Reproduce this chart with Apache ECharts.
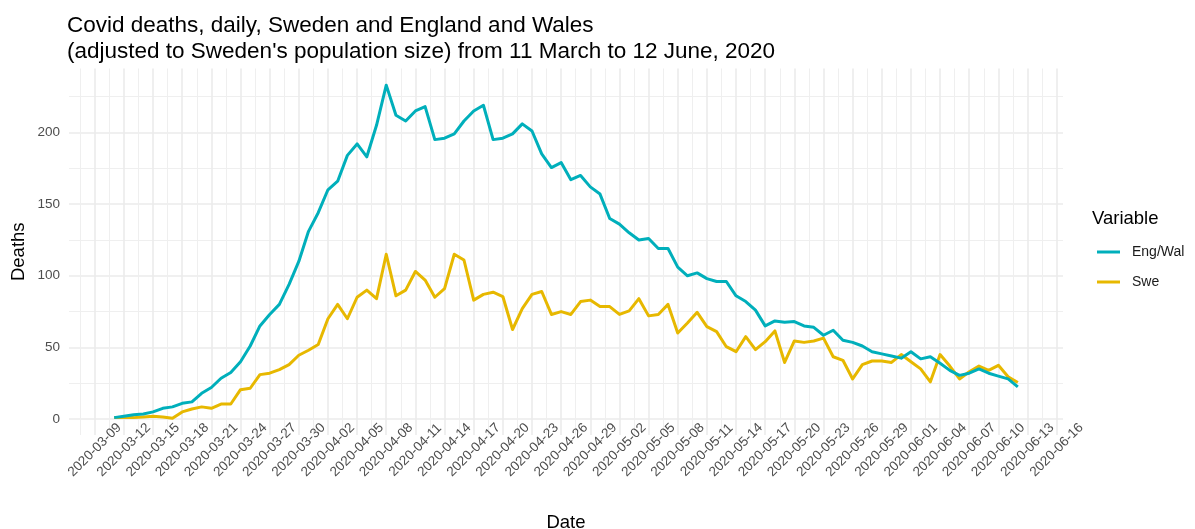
<!DOCTYPE html>
<html>
<head>
<meta charset="utf-8">
<script src="https://cdn.jsdelivr.net/npm/echarts@6/dist/echarts.min.js"></script>
<style>
  html, body { margin: 0; padding: 0; background: #ffffff; }
  #chart { width: 1195px; height: 529px; }
</style>
</head>
<body>
<div id="chart"></div>
<script>
// ---- Data ----
var dates = [
  '2020-03-11','2020-03-12','2020-03-13','2020-03-14','2020-03-15','2020-03-16','2020-03-17','2020-03-18','2020-03-19','2020-03-20',
  '2020-03-21','2020-03-22','2020-03-23','2020-03-24','2020-03-25','2020-03-26','2020-03-27','2020-03-28','2020-03-29','2020-03-30',
  '2020-03-31','2020-04-01','2020-04-02','2020-04-03','2020-04-04','2020-04-05','2020-04-06','2020-04-07','2020-04-08','2020-04-09',
  '2020-04-10','2020-04-11','2020-04-12','2020-04-13','2020-04-14','2020-04-15','2020-04-16','2020-04-17','2020-04-18','2020-04-19',
  '2020-04-20','2020-04-21','2020-04-22','2020-04-23','2020-04-24','2020-04-25','2020-04-26','2020-04-27','2020-04-28','2020-04-29',
  '2020-04-30','2020-05-01','2020-05-02','2020-05-03','2020-05-04','2020-05-05','2020-05-06','2020-05-07','2020-05-08','2020-05-09',
  '2020-05-10','2020-05-11','2020-05-12','2020-05-13','2020-05-14','2020-05-15','2020-05-16','2020-05-17','2020-05-18','2020-05-19',
  '2020-05-20','2020-05-21','2020-05-22','2020-05-23','2020-05-24','2020-05-25','2020-05-26','2020-05-27','2020-05-28','2020-05-29',
  '2020-05-30','2020-05-31','2020-06-01','2020-06-02','2020-06-03','2020-06-04','2020-06-05','2020-06-06','2020-06-07','2020-06-08',
  '2020-06-09','2020-06-10','2020-06-11','2020-06-12'
];

var engWal = [
  1, 2, 3, 3.5, 5, 7.5, 8.5, 11, 12, 18,
  22, 28.5, 32.5, 40, 51, 65, 73, 80, 94, 110,
  131, 144, 160, 166, 184, 192, 183, 205, 233, 212,
  208, 215, 218, 195, 196, 199, 208, 215, 219, 195,
  196, 199, 206, 201, 185, 175.5, 179, 167, 170, 162,
  157, 140, 136, 130, 125, 126, 119, 119, 106, 100,
  102, 98, 96, 96, 86, 82, 76, 65, 68.5, 67.5,
  68, 65, 64, 58.5, 62, 55, 53.5, 51, 47, 45.5,
  44, 42.5, 47, 42, 43.5, 39, 34, 30.5, 32, 35,
  32, 30, 28, 22.5
];

var swe = [
  1, 1, 1, 1.5, 2, 1.5, 0.5, 5, 7, 8.5,
  7.5, 10.5, 10.5, 20.5, 21.5, 31, 32, 34.5, 38, 44.5,
  48, 52, 70, 80, 70, 85, 90, 84, 115, 86,
  90, 103, 97, 85, 91, 115, 111, 83, 87, 88.5,
  85.5, 62.5, 77, 87, 89, 73, 75, 73, 82, 83,
  78.5, 78.5, 73, 75.5, 84, 72, 73, 80, 60, 67,
  74.5, 64.5, 61, 50.5, 47, 57.5, 48.5, 54, 61.5, 39.5,
  54.5, 53.5, 54.5, 56.5, 43.5, 41, 28, 38, 40.5, 40.5,
  39.5, 45, 40, 35, 26, 45, 37, 28, 33, 37,
  34, 37.5, 29.5, 25.5
];

var seriesNames = ['Eng/Wal', 'Swe'];
var seriesColors = ['#00AFBB', '#E7B800'];
var axisOrigin = '2020-03-09';      // first x tick
var tickStepDays = 3;               // x tick spacing (days)
var yTickStep = 50;                 // y tick spacing

// ---- Helpers ----
var DAY = 86400000;
var originMs = Date.parse(axisOrigin + 'T00:00:00Z');
function dayOffset(d) { return Math.round((Date.parse(d + 'T00:00:00Z') - originMs) / DAY); }
function fmtDay(v) {
  var dt = new Date(originMs + v * DAY);
  var m = dt.getUTCMonth() + 1, dd = dt.getUTCDate();
  return dt.getUTCFullYear() + '-' + (m < 10 ? '0' : '') + m + '-' + (dd < 10 ? '0' : '') + dd;
}
function pairs(vals) { return vals.map(function (v, i) { return [dayOffset(dates[i]), v]; }); }

// ggplot-like 5% expansion of the data range
var xs = dates.map(dayOffset);
var xMin = Math.min.apply(null, xs), xMax = Math.max.apply(null, xs);
var xPad = (xMax - xMin) * 0.05;
var allY = engWal.concat(swe);
var yMinD = Math.min.apply(null, allY), yMaxD = Math.max.apply(null, allY);
var yPad = (yMaxD - yMinD) * 0.05;

var FONT = '"Liberation Sans", Arial, Helvetica, sans-serif';
var chart = echarts.init(document.getElementById('chart'), null, { renderer: 'canvas' });

chart.setOption({
  backgroundColor: '#ffffff',
  animation: false,
  textStyle: { fontFamily: FONT },
  title: [
    {
      text: 'Covid deaths, daily, Sweden and England and Wales\n(adjusted to Sweden\'s population size) from 11 March to 12 June, 2020',
      left: 67, top: 13, padding: 0,
      textStyle: { fontFamily: FONT, fontSize: 22.5, lineHeight: 26, fontWeight: 'normal', color: '#000000' }
    },
    {
      text: 'Variable',
      left: 1092, top: 209, padding: 0,
      textStyle: { fontFamily: FONT, fontSize: 18.5, lineHeight: 20, fontWeight: 'normal', color: '#000000' }
    }
  ],
  legend: {
    data: seriesNames,
    orient: 'vertical',
    left: 1097, top: 245, padding: 0,
    itemWidth: 23, itemHeight: 3,
    itemGap: 16,
    icon: 'rect',
    textStyle: { fontFamily: FONT, fontSize: 14, color: '#1a1a1a', padding: [0, 0, 0, 7] }
  },
  grid: {
    left: 69, right: 132, top: 68.5, bottom: 94,
    containLabel: false,
    outerBoundsMode: 'none'
  },
  xAxis: {
    type: 'value',
    min: xMin - xPad,
    max: xMax + xPad,
    minInterval: tickStepDays,
    maxInterval: tickStepDays,
    name: 'Date',
    nameLocation: 'middle',
    nameGap: 78,
    nameMoveOverlap: false,
    nameTextStyle: { fontFamily: FONT, fontSize: 18.5, color: '#000000' },
    axisLine: { show: false },
    axisTick: { show: false },
    axisLabel: {
      rotate: 45,
      align: 'center',
      verticalAlign: 'middle',
      margin: 15,
      fontFamily: FONT,
      fontSize: 13.5,
      color: '#4D4D4D',
      formatter: function (v) {
        if (Math.abs(v - Math.round(v)) > 1e-6) return '';
        var r = Math.round(v);
        if (r % tickStepDays !== 0 || r < 0) return '';
        return fmtDay(r);
      }
    },
    splitLine: { show: true, showMinLine: false, showMaxLine: false, lineStyle: { color: '#EBEBEB', width: 1.6 } },
    minorTick: { show: false, splitNumber: 2 },
    minorSplitLine: { show: true, lineStyle: { color: '#EFEFEF', width: 1 } }
  },
  yAxis: {
    type: 'value',
    min: yMinD - yPad,
    max: yMaxD + yPad,
    minInterval: yTickStep,
    maxInterval: yTickStep,
    name: 'Deaths',
    nameLocation: 'middle',
    nameRotate: 90,
    nameGap: 41,
    nameMoveOverlap: false,
    nameTextStyle: { fontFamily: FONT, fontSize: 18.5, color: '#000000' },
    axisLine: { show: false },
    axisTick: { show: false },
    axisLabel: {
      margin: 9,
      fontFamily: FONT,
      fontSize: 13.5,
      color: '#4D4D4D',
      formatter: function (v) {
        if (Math.abs(v - Math.round(v)) > 1e-6) return '';
        var r = Math.round(v);
        if (r % yTickStep !== 0 || r < 0) return '';
        return String(r);
      }
    },
    splitLine: { show: true, showMinLine: false, showMaxLine: false, lineStyle: { color: '#EBEBEB', width: 1.6 } },
    minorTick: { show: false, splitNumber: 2 },
    minorSplitLine: { show: true, lineStyle: { color: '#EFEFEF', width: 1 } }
  },
  series: [
    {
      name: seriesNames[0], type: 'line', data: pairs(engWal),
      showSymbol: false, symbol: 'none',
      lineStyle: { color: seriesColors[0], width: 3, join: 'round' },
      itemStyle: { color: seriesColors[0] },
      z: 3
    },
    {
      name: seriesNames[1], type: 'line', data: pairs(swe),
      showSymbol: false, symbol: 'none',
      lineStyle: { color: seriesColors[1], width: 3, join: 'round' },
      itemStyle: { color: seriesColors[1] },
      z: 2
    }
  ]
});
</script>
</body>
</html>
